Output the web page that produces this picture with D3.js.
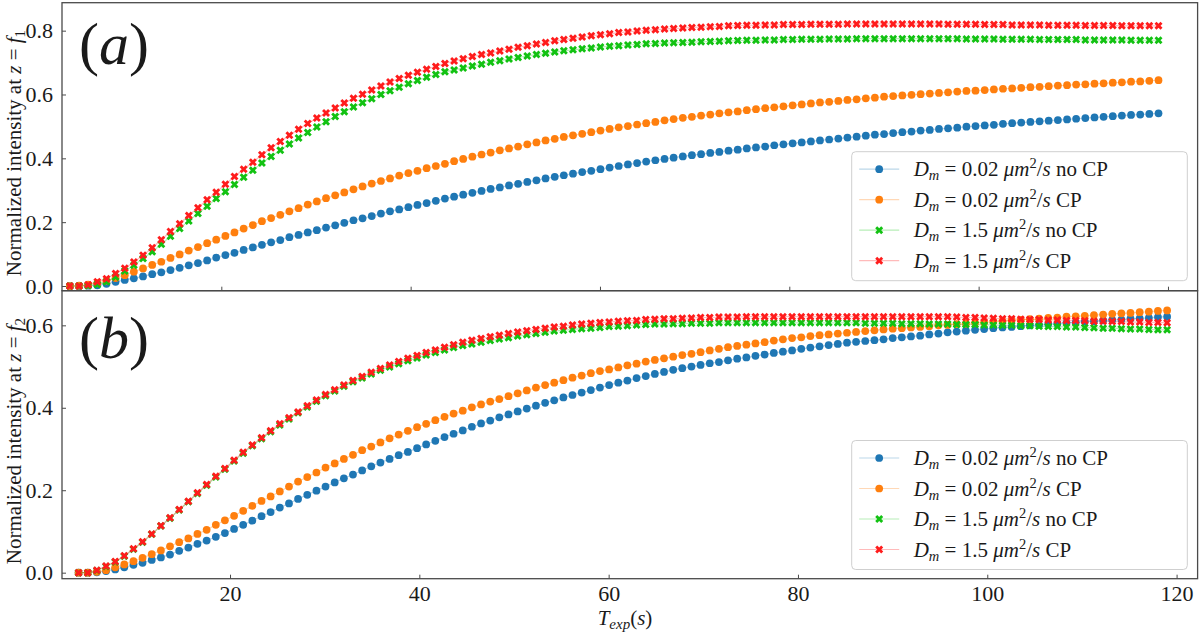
<!DOCTYPE html>
<html><head><meta charset="utf-8">
<script src="https://cdn.jsdelivr.net/npm/d3@7"></script>
<style>
body{margin:0;background:#fff}
svg{display:block}
text{font-family:"Liberation Serif","DejaVu Serif",serif;fill:#1a1a1a}
</style>
</head><body>
<svg id="chart" width="1200" height="640"></svg>
<script>
// ---- data ----
const times = [4.00,4.97,5.93,6.90,7.87,8.83,9.80,10.76,11.73,12.70,
13.66,14.63,15.60,16.56,17.53,18.50,19.46,20.43,21.39,22.36,
23.33,24.29,25.26,26.23,27.19,28.16,29.13,30.09,31.06,32.03,
32.99,33.96,34.92,35.89,36.86,37.82,38.79,39.76,40.72,41.69,
42.66,43.62,44.59,45.55,46.52,47.49,48.45,49.42,50.39,51.35,
52.32,53.29,54.25,55.22,56.18,57.15,58.12,59.08,60.05,61.02,
61.98,62.95,63.92,64.88,65.85,66.82,67.78,68.75,69.71,70.68,
71.65,72.61,73.58,74.55,75.51,76.48,77.45,78.41,79.38,80.35,
81.31,82.28,83.24,84.21,85.18,86.14,87.11,88.08,89.04,90.01,
90.97,91.94,92.91,93.87,94.84,95.81,96.77,97.74,98.71,99.67,
100.64,101.61,102.57,103.54,104.50,105.47,106.44,107.40,108.37,109.34,
110.30,111.27,112.24,113.20,114.17,115.13,116.10,117.07,118.03,119.00];

const topBlue = [0.000,0.000,0.001,0.002,0.007,0.013,0.019,0.024,0.030,0.037,
0.043,0.050,0.057,0.065,0.072,0.080,0.089,0.097,0.104,0.113,
0.121,0.129,0.137,0.144,0.153,0.160,0.168,0.175,0.183,0.190,
0.198,0.206,0.212,0.219,0.227,0.234,0.240,0.247,0.254,0.260,
0.267,0.274,0.280,0.286,0.292,0.298,0.304,0.309,0.315,0.320,
0.326,0.331,0.337,0.342,0.347,0.352,0.357,0.361,0.366,0.371,
0.376,0.381,0.385,0.390,0.394,0.398,0.402,0.406,0.410,0.413,
0.417,0.420,0.424,0.427,0.431,0.434,0.437,0.441,0.444,0.447,
0.450,0.453,0.456,0.459,0.462,0.465,0.468,0.471,0.474,0.476,
0.479,0.482,0.484,0.487,0.489,0.492,0.494,0.496,0.499,0.501,
0.503,0.505,0.508,0.510,0.512,0.514,0.516,0.518,0.520,0.522,
0.524,0.526,0.528,0.530,0.532,0.534,0.536,0.537,0.539,0.541];

const topOrange = [0.000,0.001,0.004,0.009,0.017,0.025,0.034,0.045,0.055,0.066,
0.076,0.088,0.099,0.111,0.122,0.134,0.145,0.157,0.168,0.180,
0.191,0.203,0.213,0.223,0.234,0.244,0.255,0.265,0.275,0.284,
0.293,0.303,0.312,0.321,0.329,0.337,0.346,0.354,0.361,0.369,
0.376,0.383,0.391,0.398,0.405,0.412,0.418,0.425,0.431,0.437,
0.444,0.450,0.456,0.461,0.467,0.472,0.477,0.482,0.487,0.492,
0.497,0.501,0.506,0.510,0.514,0.519,0.523,0.527,0.530,0.534,
0.537,0.541,0.544,0.547,0.551,0.554,0.557,0.560,0.563,0.566,
0.569,0.572,0.575,0.577,0.580,0.583,0.585,0.588,0.590,0.593,
0.595,0.597,0.599,0.601,0.603,0.605,0.607,0.609,0.611,0.612,
0.614,0.616,0.618,0.619,0.621,0.623,0.624,0.626,0.628,0.629,
0.631,0.632,0.634,0.635,0.637,0.638,0.640,0.641,0.643,0.645];

const topGreen = [0.000,0.000,0.001,0.005,0.013,0.028,0.047,0.065,0.086,0.107,
0.131,0.156,0.180,0.204,0.227,0.250,0.274,0.295,0.318,0.341,
0.363,0.385,0.406,0.425,0.445,0.464,0.481,0.498,0.515,0.531,
0.546,0.561,0.574,0.587,0.600,0.612,0.623,0.634,0.644,0.654,
0.663,0.671,0.677,0.683,0.689,0.695,0.701,0.706,0.711,0.716,
0.721,0.725,0.729,0.733,0.737,0.740,0.743,0.746,0.749,0.751,
0.753,0.755,0.757,0.759,0.760,0.761,0.762,0.763,0.764,0.765,
0.766,0.767,0.768,0.769,0.770,0.770,0.771,0.771,0.772,0.772,
0.773,0.773,0.773,0.774,0.774,0.774,0.775,0.775,0.775,0.775,
0.775,0.775,0.775,0.775,0.775,0.775,0.775,0.775,0.774,0.774,
0.774,0.774,0.773,0.773,0.773,0.773,0.772,0.772,0.772,0.772,
0.772,0.771,0.771,0.771,0.771,0.771,0.770,0.770,0.770,0.770];

const topRed = [0.000,0.000,0.004,0.013,0.023,0.039,0.056,0.075,0.096,0.120,
0.145,0.171,0.195,0.221,0.245,0.270,0.294,0.319,0.343,0.366,
0.388,0.411,0.433,0.453,0.472,0.491,0.509,0.526,0.542,0.558,
0.573,0.588,0.601,0.614,0.627,0.639,0.650,0.660,0.670,0.679,
0.688,0.697,0.705,0.712,0.719,0.725,0.730,0.736,0.742,0.748,
0.753,0.758,0.763,0.768,0.772,0.776,0.780,0.784,0.787,0.790,
0.794,0.796,0.799,0.801,0.803,0.805,0.807,0.808,0.810,0.811,
0.812,0.813,0.815,0.816,0.817,0.817,0.818,0.818,0.819,0.819,
0.819,0.820,0.820,0.820,0.820,0.821,0.821,0.821,0.821,0.821,
0.821,0.821,0.821,0.821,0.821,0.821,0.820,0.820,0.820,0.820,
0.819,0.819,0.819,0.818,0.818,0.818,0.818,0.817,0.817,0.817,
0.817,0.816,0.816,0.816,0.816,0.815,0.815,0.815,0.815,0.815];

const bottomBlue = [0.000,0.000,0.001,0.004,0.008,0.013,0.019,0.024,0.031,0.037,
0.044,0.053,0.061,0.070,0.078,0.087,0.096,0.106,0.116,0.126,
0.137,0.147,0.158,0.168,0.179,0.189,0.199,0.209,0.219,0.229,
0.238,0.248,0.258,0.267,0.276,0.285,0.293,0.302,0.311,0.320,
0.329,0.337,0.345,0.354,0.362,0.369,0.377,0.384,0.391,0.398,
0.405,0.412,0.418,0.425,0.431,0.437,0.443,0.449,0.455,0.461,
0.466,0.472,0.477,0.482,0.487,0.492,0.496,0.500,0.504,0.508,
0.511,0.515,0.519,0.522,0.526,0.529,0.533,0.536,0.539,0.543,
0.546,0.549,0.552,0.555,0.558,0.560,0.562,0.564,0.566,0.569,
0.571,0.573,0.575,0.578,0.580,0.583,0.585,0.587,0.589,0.591,
0.593,0.595,0.596,0.598,0.600,0.601,0.603,0.604,0.606,0.607,
0.609,0.610,0.612,0.613,0.614,0.616,0.617,0.618,0.620,0.621];

const bottomOrange = [0.000,0.000,0.002,0.006,0.013,0.020,0.028,0.036,0.045,0.054,
0.064,0.074,0.083,0.094,0.104,0.116,0.127,0.138,0.150,0.162,
0.174,0.185,0.197,0.209,0.221,0.232,0.243,0.255,0.265,0.276,
0.286,0.297,0.306,0.316,0.326,0.335,0.344,0.353,0.361,0.370,
0.378,0.386,0.393,0.401,0.408,0.415,0.421,0.428,0.435,0.442,
0.449,0.455,0.461,0.467,0.473,0.478,0.484,0.489,0.493,0.498,
0.503,0.507,0.512,0.516,0.520,0.524,0.528,0.531,0.535,0.539,
0.543,0.547,0.550,0.553,0.556,0.559,0.563,0.566,0.569,0.571,
0.574,0.576,0.578,0.580,0.582,0.584,0.586,0.588,0.590,0.592,
0.593,0.595,0.596,0.598,0.600,0.601,0.603,0.604,0.606,0.607,
0.609,0.610,0.612,0.613,0.615,0.616,0.618,0.619,0.621,0.622,
0.623,0.625,0.626,0.628,0.629,0.630,0.632,0.633,0.635,0.636];

const bottomGreen = [0.000,0.000,0.005,0.015,0.026,0.040,0.057,0.074,0.093,0.113,
0.132,0.152,0.172,0.192,0.212,0.232,0.251,0.271,0.290,0.308,
0.325,0.342,0.358,0.373,0.388,0.402,0.416,0.429,0.441,0.452,
0.463,0.472,0.482,0.491,0.499,0.507,0.514,0.521,0.528,0.534,
0.540,0.546,0.551,0.555,0.559,0.563,0.567,0.570,0.574,0.577,
0.580,0.583,0.586,0.588,0.590,0.592,0.593,0.595,0.597,0.598,
0.599,0.601,0.602,0.603,0.603,0.604,0.604,0.605,0.605,0.605,
0.606,0.606,0.606,0.606,0.606,0.606,0.606,0.606,0.606,0.606,
0.606,0.606,0.606,0.606,0.606,0.606,0.605,0.605,0.605,0.605,
0.604,0.604,0.604,0.603,0.603,0.603,0.602,0.602,0.602,0.601,
0.601,0.600,0.600,0.599,0.599,0.598,0.597,0.597,0.596,0.596,
0.595,0.594,0.593,0.593,0.592,0.591,0.591,0.590,0.589,0.589];

const bottomRed = [0.000,0.000,0.006,0.016,0.027,0.041,0.058,0.075,0.094,0.114,
0.133,0.153,0.173,0.194,0.214,0.234,0.253,0.273,0.292,0.310,
0.327,0.344,0.361,0.376,0.390,0.405,0.419,0.432,0.444,0.455,
0.466,0.476,0.486,0.495,0.504,0.512,0.520,0.527,0.534,0.540,
0.547,0.553,0.559,0.564,0.568,0.572,0.576,0.580,0.584,0.587,
0.590,0.593,0.596,0.598,0.601,0.603,0.605,0.607,0.608,0.610,
0.611,0.612,0.614,0.615,0.616,0.616,0.617,0.618,0.619,0.619,
0.620,0.620,0.620,0.621,0.621,0.621,0.621,0.621,0.621,0.621,
0.621,0.621,0.621,0.621,0.621,0.621,0.621,0.621,0.621,0.621,
0.621,0.621,0.621,0.621,0.621,0.621,0.620,0.619,0.619,0.618,
0.617,0.616,0.616,0.615,0.614,0.614,0.613,0.613,0.612,0.612,
0.611,0.610,0.610,0.609,0.609,0.608,0.608,0.607,0.607,0.606];

const seriesD = ["0.02", "0.02", "1.5", "1.5"];
const seriesCP = ["no CP", "CP", "no CP", "CP"];
const seriesMarker = ["circle", "circle", "x", "x"];
const colors = ["#1f77b4", "#ff7f0e", "#12c212", "#ff1c1c"];
const xTicks = [20, 40, 60, 80, 100, 120];
const yTicksTop = [0.0, 0.2, 0.4, 0.6, 0.8];
const yTicksBottom = [0.0, 0.2, 0.4, 0.6];
const panelLetters = ["a", "b"];
const panelSubscripts = ["1", "2"];

// ---- layout ----
const svg = d3.select("#chart");
const left = 62, right = 1197.6;
const panels = [
  {series:[topBlue, topOrange, topGreen, topRed], xDom:[3.17, 123.13], yDom:[-0.0147, 0.8876],
   yRange:[290.7, 2.7], yTicks:yTicksTop, showX:false, legendY:151.7, letterBase:64, labelY:153},
  {series:[bottomBlue, bottomOrange, bottomGreen, bottomRed], xDom:[2.25, 122.22], yDom:[-0.0146, 0.684],
   yRange:[578.7, 290.7], yTicks:yTicksBottom, showX:true, legendY:440.5, letterBase:358, labelY:441}
];

const frameColor = "#4a4a4a";

function markerPath(type){
  if (type === "circle") return d3.symbol(d3.symbolCircle, 47)();
  return d3.symbol(d3.symbolCross, 40)();
}

panels.forEach((p, pi) => {
  const x = d3.scaleLinear().domain(p.xDom).range([left, right]);
  const y = d3.scaleLinear().domain(p.yDom).range(p.yRange);
  const g = svg.append("g");

  // axes
  const yAxis = d3.axisLeft(y).tickValues(p.yTicks).tickFormat(d3.format(".1f"))
    .tickSizeInner(-4).tickSizeOuter(0).tickPadding(9);
  const ga = g.append("g").attr("transform", `translate(${left},0)`).call(yAxis);
  const xAxis = d3.axisBottom(x).tickValues(xTicks).tickFormat(p.showX ? d3.format("d") : () => "")
    .tickSizeInner(-4).tickSizeOuter(0).tickPadding(6.5);
  const gb = g.append("g").attr("transform", `translate(0,${p.yRange[0]})`).call(xAxis);
  [ga, gb].forEach(a => {
    a.select(".domain").remove();
    a.selectAll(".tick line").attr("stroke", frameColor).attr("stroke-width", 1);
    a.selectAll(".tick text").attr("font-family", '"Liberation Serif", serif')
      .attr("font-size", 22).attr("fill", "#1a1a1a");
  });

  // clip for data
  const clipId = "clip" + pi;
  svg.append("clipPath").attr("id", clipId).append("rect")
    .attr("x", left).attr("y", p.yRange[1]).attr("width", right - left).attr("height", p.yRange[0] - p.yRange[1]);
  const dg = g.append("g").attr("clip-path", `url(#${clipId})`);

  const line = d3.line().x((d, i) => x(times[i])).y(d => y(d));
  p.series.forEach((vals, si) => {
    dg.append("path").datum(vals).attr("d", line).attr("fill", "none")
      .attr("stroke", colors[si]).attr("stroke-opacity", 0.3).attr("stroke-width", 1.2);
    const mp = markerPath(seriesMarker[si]);
    const rot = seriesMarker[si] === "x" ? " rotate(45)" : "";
    dg.append("g").selectAll("path").data(vals).join("path")
      .attr("d", mp)
      .attr("transform", (d, i) => `translate(${x(times[i])},${y(d)})${rot}`)
      .attr("fill", colors[si]);
  });

  // frame
  g.append("rect").attr("x", left).attr("y", p.yRange[1]).attr("width", right - left)
    .attr("height", p.yRange[0] - p.yRange[1]).attr("fill", "none")
    .attr("stroke", frameColor).attr("stroke-width", 1.3);

  // panel letter
  const lt = g.append("text").attr("x", 79).attr("y", p.letterBase).attr("font-size", 60);
  lt.append("tspan").text("(");
  lt.append("tspan").attr("font-style", "italic").text(panelLetters[pi]);
  lt.append("tspan").text(")");

  // y label
  const yl = g.append("text").attr("transform", `translate(20.5,${p.labelY}) rotate(-90)`)
    .attr("text-anchor", "middle").attr("font-size", 21);
  yl.append("tspan").text("Normalized intensity at ");
  yl.append("tspan").attr("font-style", "italic").text("z");
  yl.append("tspan").text(" = ");
  yl.append("tspan").attr("font-style", "italic").text("f");
  yl.append("tspan").attr("font-size", 15).attr("dy", 4).text(panelSubscripts[pi]);

  // legend
  const lx = 851.7, lw = 335.6, lh = 129, ly = p.legendY;
  const lg = g.append("g");
  lg.append("rect").attr("x", lx).attr("y", ly).attr("width", lw).attr("height", lh)
    .attr("rx", 4).attr("fill", "#fff").attr("fill-opacity", 0.85)
    .attr("stroke", "#cfcfcf").attr("stroke-width", 1);
  seriesD.forEach((dv, si) => {
    const cy = ly + 17.5 + si * 30.5;
    lg.append("line").attr("x1", lx + 7.5).attr("x2", lx + 47.5).attr("y1", cy).attr("y2", cy)
      .attr("stroke", colors[si]).attr("stroke-opacity", 0.3).attr("stroke-width", 1.2);
    const rot = seriesMarker[si] === "x" ? " rotate(45)" : "";
    lg.append("path").attr("d", markerPath(seriesMarker[si]))
      .attr("transform", `translate(${lx + 27.5},${cy})${rot}`).attr("fill", colors[si]);
    const t = lg.append("text").attr("x", lx + 62).attr("y", cy + 7).attr("font-size", 21);
    t.append("tspan").attr("font-style", "italic").text("D");
    t.append("tspan").attr("font-style", "italic").attr("font-size", 14.5).attr("dy", 4).text("m");
    t.append("tspan").attr("dy", -4).text(" = " + dv + " ");
    t.append("tspan").attr("font-style", "italic").text("μm");
    t.append("tspan").attr("font-size", 14.5).attr("dy", -8).text("2");
    t.append("tspan").attr("dy", 8).text("/");
    t.append("tspan").attr("font-style", "italic").text("s");
    t.append("tspan").text(" " + seriesCP[si]);
  });
});

// x label
const xl = svg.append("text").attr("x", 625).attr("y", 625).attr("text-anchor", "middle").attr("font-size", 21);
xl.append("tspan").attr("font-style", "italic").text("T");
xl.append("tspan").attr("font-style", "italic").attr("font-size", 15).attr("dy", 4).text("exp");
xl.append("tspan").attr("dy", -4).text("(");
xl.append("tspan").attr("font-style", "italic").text("s");
xl.append("tspan").text(")");
</script>
</body></html>
